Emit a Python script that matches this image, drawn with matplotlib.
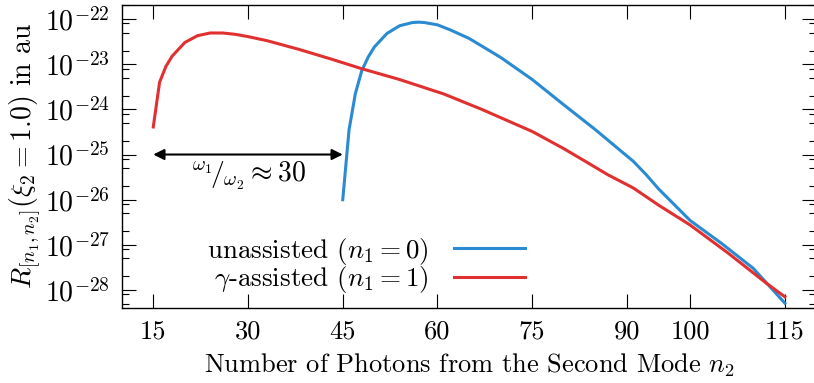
import matplotlib
matplotlib.use('Agg')
import matplotlib.pyplot as plt
import numpy as np
from matplotlib.ticker import LogLocator, NullFormatter

plt.rcParams['font.family'] = 'serif'
plt.rcParams['font.serif'] = ['cmr10']
plt.rcParams['mathtext.fontset'] = 'cm'
plt.rcParams['axes.formatter.use_mathtext'] = True

# unassisted (n1 = 0): n2 and log10 of the rate
n2_unassisted = [45, 46, 47, 48, 49, 50, 52, 54, 56, 57, 58, 60, 62, 65, 70,
                 75, 80, 85, 88, 91, 93, 95, 97, 100, 105, 110, 115]
log_rate_unassisted = [-26.0, -24.45, -23.65, -23.15, -22.85, -22.62, -22.32,
                       -22.15, -22.08, -22.07, -22.08, -22.13, -22.24, -22.43,
                       -22.85, -23.34, -23.90, -24.45, -24.80, -25.15, -25.44,
                       -25.76, -26.04, -26.46, -26.97, -27.52, -28.29]

# gamma-assisted (n1 = 1)
n2_assisted = [15, 16, 17, 18, 20, 22, 24, 26, 28, 30, 33, 38, 43, 48, 54, 61,
               67, 75, 80, 84, 87, 91, 95, 100, 106, 112, 115]
log_rate_assisted = [-24.39, -23.40, -23.05, -22.82, -22.52, -22.37, -22.31,
                     -22.31, -22.34, -22.39, -22.48, -22.67, -22.88, -23.10,
                     -23.34, -23.66, -24.00, -24.49, -24.87, -25.20, -25.45,
                     -25.74, -26.12, -26.56, -27.18, -27.84, -28.15]

xticks = [15, 30, 45, 60, 75, 90, 100, 115]
ydecades = [-28, -27, -26, -25, -24, -23, -22]

blue = '#2a8bd2'
red = '#e03030'

fig = plt.figure(figsize=(8.14, 3.83), dpi=100)
ax = fig.add_axes([0.1495, 0.1966, 0.8535, 0.7911])

ax.plot(n2_unassisted, 10.0 ** np.array(log_rate_unassisted), color=blue,
        lw=2.2, label=r'unassisted ($n_1 = 0$)')
ax.plot(n2_assisted, 10.0 ** np.array(log_rate_assisted), color=red,
        lw=2.2, label=r'$\gamma$-assisted ($n_1 = 1$)')

ax.set_yscale('log')
ax.set_xlim(10, 120)
ax.set_ylim(4.07e-29, 2.07e-22)
ax.set_xticks(xticks)
ax.set_xticklabels([str(t) for t in xticks])
ax.set_yticks([10.0 ** d for d in ydecades])
ax.set_yticklabels([r'$10^{%d}$' % d for d in ydecades])
ax.yaxis.set_minor_locator(LogLocator(base=10, subs=(2, 5, 8), numticks=20))
ax.yaxis.set_minor_formatter(NullFormatter())

ax.tick_params(which='both', direction='in', top=True, right=True, width=0.8)
ax.tick_params(which='major', length=9.9)
ax.tick_params(which='minor', length=4.8)
ax.tick_params(axis='x', labelsize=19, pad=8.5)
ax.tick_params(axis='y', labelsize=20, pad=8.5)
for s in ax.spines.values():
    s.set_linewidth(1.0)

# double arrow for the frequency ratio
ax.annotate('', xy=(45, 1e-25), xytext=(15, 1e-25),
            arrowprops=dict(arrowstyle='<|-|>', color='black', lw=1.5,
                            shrinkA=0, shrinkB=0, mutation_scale=16))
ax.text(30, 10 ** -25.12, r'${}^{\omega_1}\!/_{\omega_2} \approx 30$',
        ha='center', va='top', fontsize=20)

ax.set_xlabel(r'Number of Photons from the Second Mode $n_2$', fontsize=19,
              labelpad=6)
ax.set_ylabel(r'$R_{[n_1,n_2]}(\xi_2 = 1.0)$ in au', fontsize=20, labelpad=1)

ax.legend(loc='lower right', bbox_to_anchor=(0.611, -0.03), frameon=False,
          markerfirst=False, fontsize=19.5, handlelength=2.6,
          handletextpad=0.95, labelspacing=-0.1, borderpad=0.3)

fig.savefig('out.png', dpi=100)
